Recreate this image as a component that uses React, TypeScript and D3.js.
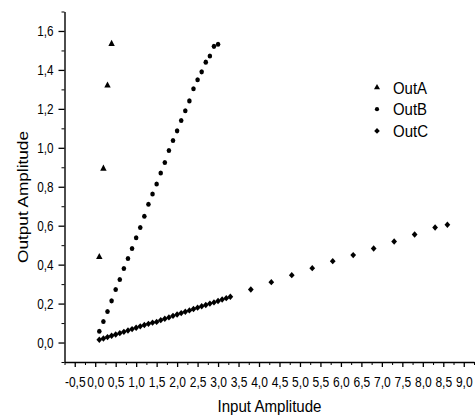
import * as d3 from "d3";
import { useEffect, useRef } from "react";

// OutA: triangles
const outAX = [0.1, 0.2, 0.3, 0.4];
const outAY = [0.439, 0.893, 1.32, 1.534];

// OutB: circles
const outBX = [
	0.1, 0.2, 0.3, 0.4, 0.5, 0.6, 0.7, 0.8, 0.9, 1.0, 1.1, 1.2, 1.3, 1.4, 1.5,
	1.6, 1.7, 1.8, 1.9, 2.0, 2.1, 2.2, 2.3, 2.4, 2.5, 2.6, 2.7, 2.8, 2.9, 3.0,
];
const outBY = [
	0.058, 0.108, 0.159, 0.214, 0.272, 0.324, 0.38, 0.432, 0.483, 0.538, 0.591,
	0.648, 0.71, 0.763, 0.814, 0.871, 0.925, 0.986, 1.037, 1.087, 1.14, 1.19,
	1.241, 1.303, 1.349, 1.39, 1.44, 1.471, 1.521, 1.532,
];

// OutC: diamonds
const outCX = [
	0.1, 0.2, 0.3, 0.4, 0.5, 0.6, 0.7, 0.8, 0.9, 1.0, 1.1, 1.2, 1.3, 1.4, 1.5,
	1.6, 1.7, 1.8, 1.9, 2.0, 2.1, 2.2, 2.3, 2.4, 2.5, 2.6, 2.7, 2.8, 2.9, 3.0,
	3.1, 3.2, 3.3, 3.8, 4.3, 4.8, 5.3, 5.8, 6.3, 6.8, 7.3, 7.8, 8.3, 8.6,
];
const outCY = [
	0.014, 0.021, 0.028, 0.035, 0.041, 0.048, 0.055, 0.062, 0.069, 0.076,
	0.083, 0.09, 0.096, 0.102, 0.106, 0.115, 0.122, 0.129, 0.137, 0.144, 0.151,
	0.158, 0.165, 0.172, 0.179, 0.186, 0.193, 0.2, 0.206, 0.213, 0.221, 0.228,
	0.235, 0.272, 0.31, 0.346, 0.382, 0.418, 0.449, 0.483, 0.519, 0.555, 0.591,
	0.605,
];

const xMajorTicks = [
	-0.5, 0.0, 0.5, 1.0, 1.5, 2.0, 2.5, 3.0, 3.5, 4.0, 4.5, 5.0, 5.5, 6.0, 6.5,
	7.0, 7.5, 8.0, 8.5, 9.0,
];
const yMajorTicks = [0.0, 0.2, 0.4, 0.6, 0.8, 1.0, 1.2, 1.4, 1.6];

const seriesNames = ["OutA", "OutB", "OutC"];

const FONT = "'Liberation Sans', Arial, sans-serif";

function App() {
	const ref = useRef<SVGSVGElement>(null);

	useEffect(() => {
		const svg = d3.select(ref.current);
		svg.selectAll("*").remove();

		const x = d3.scaleLinear().domain([-0.75, 9.25]).range([64.5, 474]);
		const y = d3.scaleLinear().domain([-0.1, 1.7]).range([362, 11.5]);

		const fmt = (d: number) => d.toFixed(1).replace(".", ",");

		const xMinor = d3.range(-0.75, 9.26, 0.5);
		const yMinor = d3.range(-0.1, 1.71, 0.2);

		// x axis
		svg.append("g")
			.attr("transform", `translate(0,${y(-0.1)})`)
			.call(d3.axisBottom(x).tickValues(xMinor).tickSize(3).tickFormat(() => ""))
			.call((g) => g.select(".domain").remove());
		const xAx = svg
			.append("g")
			.attr("transform", `translate(0,${y(-0.1)})`)
			.call(
				d3
					.axisBottom(x)
					.tickValues(xMajorTicks)
					.tickSize(5)
					.tickSizeOuter(0)
					.tickFormat((d) => fmt(+d))
			);
		xAx.select(".domain").attr("stroke-width", 1.4);
		xAx.selectAll("line").attr("stroke-width", 1.3);
		xAx.selectAll("text")
			.attr("y", 25)
			.attr("dy", 0)
			.attr("transform", "scale(0.86,1)")
			.style("font-family", FONT)
			.style("font-size", "14px")
			.attr("fill", "#000");

		// y axis
		svg.append("g")
			.attr("transform", `translate(${x(-0.75)},0)`)
			.call(d3.axisLeft(y).tickValues(yMinor).tickSize(3).tickFormat(() => ""))
			.call((g) => g.select(".domain").remove());
		const yAx = svg
			.append("g")
			.attr("transform", `translate(${x(-0.75)},0)`)
			.call(
				d3
					.axisLeft(y)
					.tickValues(yMajorTicks)
					.tickSize(6)
					.tickSizeOuter(0)
					.tickFormat((d) => fmt(+d))
			);
		yAx.select(".domain").attr("stroke-width", 1.4);
		yAx.selectAll("line").attr("stroke-width", 1.3);
		yAx.selectAll("text")
			.attr("x", -13)
			.attr("transform", "scale(0.84,1)")
			.style("font-family", FONT)
			.style("font-size", "14px")
			.attr("fill", "#000");

		// axis titles
		svg.append("text")
			.attr("x", 269.5)
			.attr("y", 412)
			.attr("text-anchor", "middle")
			.attr("textLength", 104)
			.attr("lengthAdjust", "spacingAndGlyphs")
			.style("font-family", FONT)
			.style("font-size", "17px")
			.text("Input Amplitude");
		svg.append("text")
			.attr("transform", "translate(28,197) scale(0.82,1) rotate(-90)")
			.attr("text-anchor", "middle")
			.attr("textLength", 132)
			.attr("lengthAdjust", "spacingAndGlyphs")
			.style("font-family", FONT)
			.style("font-size", "17px")
			.text("Output Amplitude");

		const symbols = [d3.symbolTriangle, d3.symbolCircle, d3.symbolDiamond2];
		const sizes = [22, 20, 26];
		const series = [
			d3.zip(outAX, outAY),
			d3.zip(outBX, outBY),
			d3.zip(outCX, outCY),
		];

		series.forEach((pts, i) => {
			const sym = d3.symbol(symbols[i], sizes[i]);
			svg.append("g")
				.selectAll("path")
				.data(pts)
				.enter()
				.append("path")
				.attr("d", sym)
				.attr("transform", (d) => `translate(${x(d[0])},${y(d[1])}) scale(0.9,1)`)
				.attr("fill", "#000");
		});

		// legend
		const legend = svg
			.append("g")
			.selectAll("g")
			.data(seriesNames)
			.enter()
			.append("g")
			.attr("transform", (d, i) => `translate(377,${87.5 + i * 21.7})`);
		legend
			.append("path")
			.attr("d", (d, i) => d3.symbol(symbols[i], sizes[i] - 6)())
			.attr("fill", "#000");
		legend
			.append("text")
			.attr("x", 16)
			.attr("y", 6)
			.attr("textLength", (d) => (d === "OutC" ? 35 : 34))
			.attr("lengthAdjust", "spacingAndGlyphs")
			.style("font-family", FONT)
			.style("font-size", "16px")
			.text((d) => d);
	}, []);

	return (
		<svg
			ref={ref}
			width={475}
			height={416}
			style={{ position: "absolute", left: 0, top: 0, background: "#fff" }}
		/>
	);
}

export default App;
